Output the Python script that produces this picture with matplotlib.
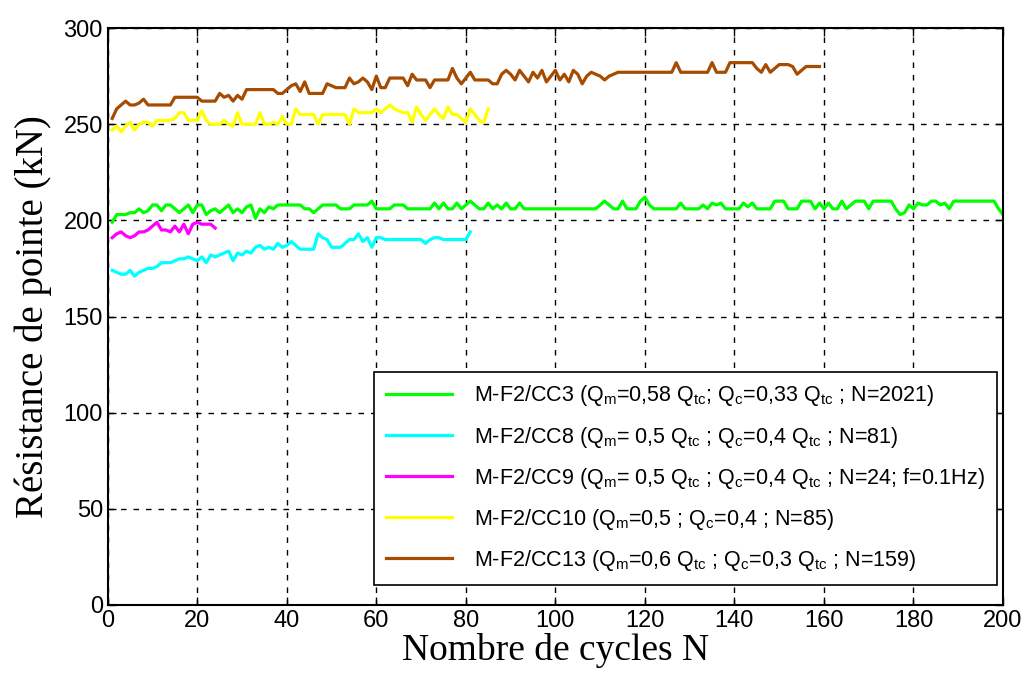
import matplotlib.pyplot as plt
import numpy as np

# Donnees (resistance de pointe en kN pour chaque cycle N)
cc3 = [199, 203, 203, 203, 204, 204, 206, 204, 205, 208,
       208, 205, 208, 208, 206, 204, 206, 208, 204, 208,
       208, 203, 205, 206, 204, 206, 208, 204, 206, 204,
       207, 208, 201, 206, 204, 207, 206, 208, 208, 208,
       208, 208, 208, 206, 206, 204, 206, 208, 208, 208,
       208, 206, 206, 206, 208, 208, 208, 208, 210, 206,
       206, 206, 206, 208, 208, 208, 206, 206, 206, 206,
       206, 206, 209, 206, 209, 206, 206, 209, 206, 208,
       210, 208, 206, 206, 209, 206, 208, 206, 209, 206,
       206, 209, 206, 206, 206, 206, 206, 206, 206, 206,
       206, 206, 206, 206, 206, 206, 206, 206, 206, 208,
       210, 208, 206, 206, 210, 206, 206, 206, 210, 212,
       208, 206, 206, 206, 206, 206, 206, 209, 206, 206,
       206, 206, 208, 206, 209, 208, 209, 206, 206, 206,
       206, 209, 207, 209, 206, 206, 206, 206, 210, 210,
       210, 206, 206, 206, 210, 210, 210, 206, 209, 206,
       209, 206, 206, 210, 206, 208, 210, 210, 210, 206,
       210, 210, 210, 210, 210, 206, 203, 204, 208, 206,
       209, 208, 208, 210, 210, 208, 209, 206, 210, 210,
       210, 210, 210, 210, 210, 210, 210, 210, 206, 203]

cc8 = [174, 173, 172, 172, 174, 171, 173, 174, 175, 175,
       176, 178, 178, 178, 179, 180, 180, 181, 180, 179,
       181, 178, 182, 181, 182, 183, 184, 179, 183, 182,
       184, 183, 186, 187, 185, 186, 185, 188, 186, 187,
       189, 187, 185, 185, 185, 185, 193, 191, 190, 186,
       186, 186, 188, 190, 190, 193, 189, 191, 186, 191,
       191, 190, 190, 190, 190, 190, 190, 190, 190, 190,
       188, 190, 191, 191, 190, 190, 190, 190, 190, 190,
       194]

cc9 = [191, 193, 194, 192, 191, 192, 194, 194, 195, 197,
       199, 195, 195, 194, 197, 194, 198, 193, 198, 199,
       198, 198, 198, 196]

cc10 = [247, 249, 246, 249, 251, 247, 250, 251, 251, 249,
        252, 252, 252, 252, 253, 256, 256, 252, 252, 252,
        257, 252, 250, 250, 250, 252, 250, 249, 256, 250,
        250, 250, 250, 256, 250, 250, 251, 250, 254, 250,
        250, 258, 255, 255, 255, 255, 250, 255, 255, 255,
        255, 255, 255, 250, 258, 256, 256, 256, 256, 258,
        256, 258, 260, 258, 257, 256, 256, 251, 259, 255,
        252, 255, 258, 255, 253, 259, 255, 255, 253, 251,
        258, 255, 252, 251, 258]

cc13 = [253, 258, 260, 262, 260, 260, 261, 263, 260, 260,
        260, 260, 260, 260, 264, 264, 264, 264, 264, 264,
        262, 262, 262, 262, 266, 264, 265, 262, 265, 263,
        268, 268, 268, 268, 268, 268, 268, 266, 266, 268,
        270, 271, 267, 272, 266, 266, 266, 266, 271, 270,
        269, 269, 269, 274, 271, 272, 274, 272, 268, 275,
        269, 269, 274, 274, 274, 274, 270, 276, 273, 273,
        273, 269, 273, 273, 273, 273, 279, 274, 271, 274,
        277, 273, 273, 273, 273, 271, 271, 276, 278, 276,
        273, 278, 275, 272, 277, 274, 278, 272, 275, 278,
        273, 276, 272, 278, 276, 271, 275, 277, 276, 275,
        273, 275, 276, 277, 277, 277, 277, 277, 277, 277,
        277, 277, 277, 277, 277, 277, 282, 277, 277, 277,
        277, 277, 277, 277, 282, 277, 277, 277, 282, 282,
        282, 282, 282, 282, 279, 277, 281, 277, 279, 281,
        281, 281, 280, 276, 278, 280, 280, 280, 280]

series = [cc3, cc8, cc9, cc10, cc13]
couleurs = ['#00FF00', '#00FFFF', '#FF00FF', '#FFFF00', '#A64B00']
legendes = [
    'M-F2/CC3 (Q$_m$=0,58 Q$_{tc}$; Q$_c$=0,33 Q$_{tc}$ ; N=2021)',
    'M-F2/CC8 (Q$_m$= 0,5 Q$_{tc}$ ; Q$_c$=0,4 Q$_{tc}$ ; N=81)',
    'M-F2/CC9 (Q$_m$= 0,5 Q$_{tc}$ ; Q$_c$=0,4 Q$_{tc}$ ; N=24; f=0.1Hz)',
    'M-F2/CC10 (Q$_m$=0,5 ; Q$_c$=0,4 ; N=85)',
    'M-F2/CC13 (Q$_m$=0,6 Q$_{tc}$ ; Q$_c$=0,3 Q$_{tc}$ ; N=159)',
]

plt.rcParams['font.family'] = 'Liberation Sans'
plt.rcParams['mathtext.default'] = 'regular'

fig = plt.figure(figsize=(10.26, 6.84), dpi=100)
ax = fig.add_axes([0.105, 0.1155, 0.8726, 0.8435])

for y, c, lab in zip(series, couleurs, legendes):
    x = np.arange(1, len(y) + 1)
    ax.plot(x, y, color=c, linewidth=2.3, label=lab)

ax.set_xlim(0, 200)
ax.set_ylim(0, 300)
ax.set_xticks(np.arange(0, 201, 20))
ax.set_yticks(np.arange(0, 301, 50))
ax.tick_params(direction='in', top=True, right=True, length=6, width=1,
               labelsize=17, colors='black')
for s in ax.spines.values():
    s.set_linewidth(1.5)

ax.grid(True, color='black', linestyle=(0, (4, 5)), linewidth=1)

ax.set_xlabel('Nombre de cycles N', family='Liberation Serif', fontsize=27,
              labelpad=1)
ax.set_ylabel('Résistance de pointe (kN)', family='Liberation Serif',
              fontsize=28, labelpad=8)

leg = ax.legend(loc='lower right', bbox_to_anchor=(0.993, 0.035), fontsize=15.5,
                fancybox=False, edgecolor='black', framealpha=1,
                handlelength=3.1, handletextpad=1.0, labelspacing=0.75,
                borderpad=0.55, borderaxespad=0)
leg.get_frame().set_linewidth(1.2)

plt.savefig('out.png', dpi=100)
